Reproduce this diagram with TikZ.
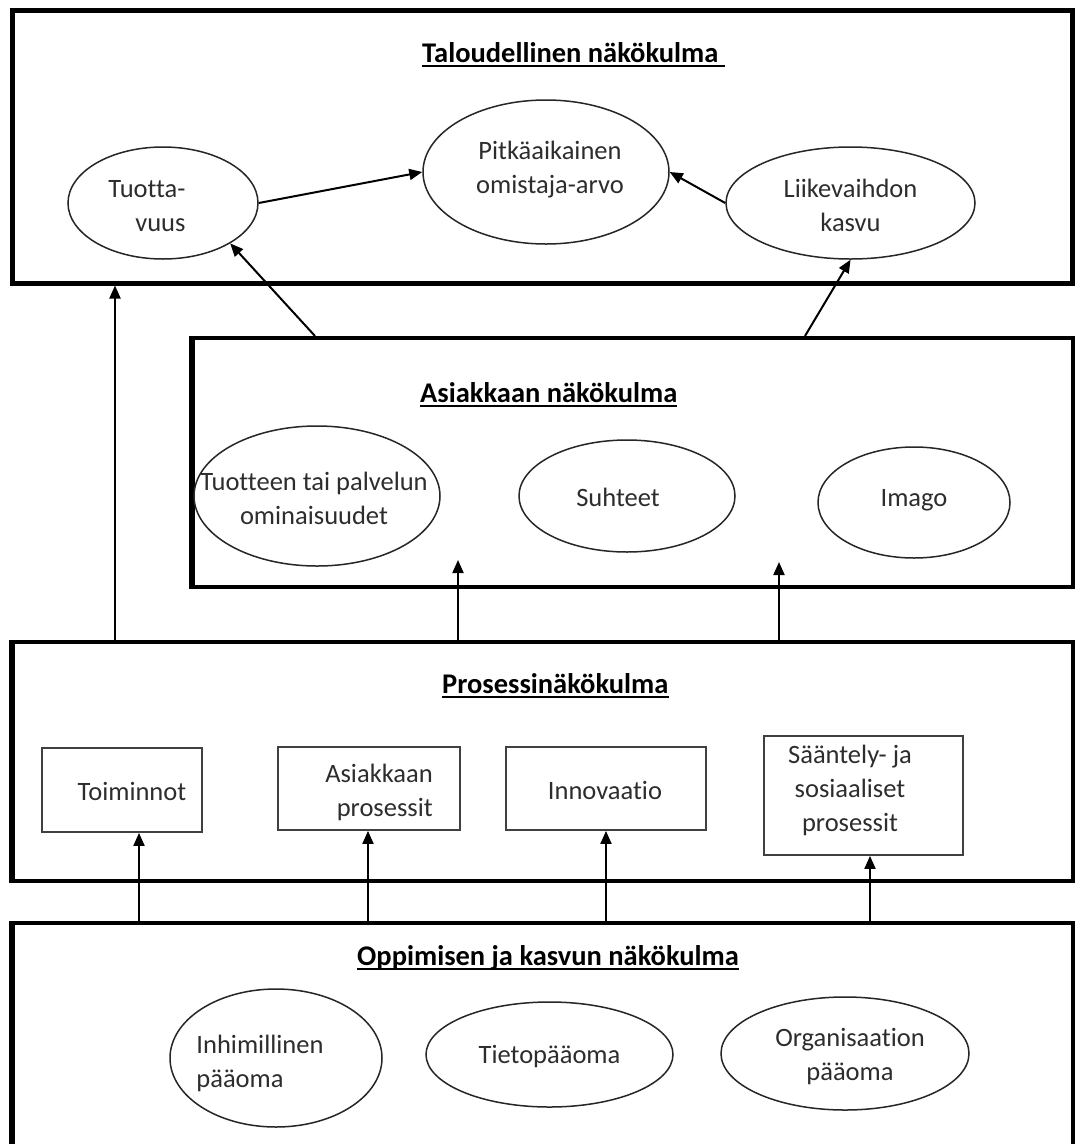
\documentclass[tikz,border=0pt]{standalone}
\usepackage{fontspec}
\setmainfont{Carlito}[Ligatures={NoCommon}]
\usetikzlibrary{arrows.meta,shapes.geometric}

\definecolor{ink}{RGB}{45,45,45}
\newcommand\bodyfont{\fontsize{26.5}{34}\selectfont}
\newcommand\headfont{\fontsize{28.5}{34}\selectfont\bfseries}
% Text block of zero width: #1 = twice the shift to the right,
% #2 = twice the shift downwards, #3 = column alignment, #4 = lines
\newcommand\nodetxt[4]{\makebox[0pt]{\hspace*{#1}\raisebox{0pt}[\dimexpr\height+#2\relax][\depth]{\begin{tabular}{@{}#3@{}}#4\end{tabular}}}}

\tikzset{
  panel/.style={draw=black, line width=4pt, rectangle, inner sep=0pt},
  leftedge/.style={line width=6.5pt},
  oval/.style={draw=black!85, ellipse, line width=1.5pt, inner sep=0pt,
    font=\bodyfont, text=ink},
  card/.style={draw=black!75, rectangle, line width=1.8pt, inner sep=0pt,
    font=\bodyfont, text=ink},
  heading/.style={inner sep=0pt, anchor=base west, font=\headfont, text=black},
  uline/.style={line width=2pt},
  link/.style={line width=2pt, -{Triangle[length=13pt,width=11pt]}}
}

\begin{document}
\begin{tikzpicture}[x=1pt,y=-1pt]
\useasboundingbox (0,0) rectangle (1075,1144);
\fill[white] (0,0) rectangle (1075,1144);

% --- perspective panels ---
\node[panel, line width=5pt, minimum width=1060pt, minimum height=273pt] (talo) at (542,146.5) {};
\node[panel, minimum width=881pt, minimum height=249pt] (asia) at (632.5,462.5) {};
\node[panel, minimum width=1061pt, minimum height=239pt] (proc) at (542.5,761.5) {};
\node[rectangle, inner sep=0pt, outer sep=0pt, minimum width=1061pt, minimum height=237pt] (opp) at (542.5,1041.5) {};
\draw[line width=4pt] (opp.south west) |- (opp.north east) -- (opp.south east);

\draw[leftedge] ([xshift=2pt]asia.north west) -- ([xshift=2pt]asia.south west);
\draw[leftedge] ([xshift=2pt]proc.north west) -- ([xshift=2pt]proc.south west);
\draw[leftedge] ([yshift=2pt]opp.north west) -- (opp.south west);

% --- headings ---
\node[heading] (h1) at (422,62) {Taloudellinen näkökulma};
\node[heading] (h2) at (420,402) {Asiakkaan näkökulma};
\node[heading] (h3) at (442,693) {Prosessinäkökulma};
\node[heading] (h4) at (357,965) {Oppimisen ja kasvun näkökulma};
\draw[uline] ([yshift=-4pt]h1.base west) -- ([xshift=7pt,yshift=-4pt]h1.base east);
\draw[uline] ([yshift=-4pt]h2.base west) -- ([yshift=-4pt]h2.base east);
\draw[uline] ([yshift=-4pt]h3.base west) -- ([yshift=-4pt]h3.base east);
\draw[uline] ([yshift=-4pt]h4.base west) -- ([yshift=-4pt]h4.base east);

% --- financial perspective ---
\node[oval, minimum width=190pt, minimum height=112pt] (tuotta) at (163,203)
  {\nodetxt{-32pt}{8.4pt}{r}{Tuotta-\\vuus}};
\node[oval, minimum width=246pt, minimum height=144pt] (pitka) at (546,172)
  {\nodetxt{8pt}{-5.6pt}{c}{Pitkäaikainen\\omistaja-arvo}};
\node[oval, minimum width=249pt, minimum height=112pt] (liike) at (850.5,203)
  {\nodetxt{0pt}{8.4pt}{c}{Liikevaihdon\\kasvu}};

% --- customer perspective ---
\node[oval, minimum width=246pt, minimum height=140pt] (tuote) at (317,496)
  {\nodetxt{-6pt}{8.4pt}{c}{Tuotteen tai palvelun\\ominaisuudet}};
\node[oval, minimum width=216pt, minimum height=112pt] (suhteet) at (627,496)
  {\nodetxt{-18pt}{6.4pt}{c}{Suhteet}};
\node[oval, minimum width=192pt, minimum height=111pt] (imago) at (914,502.5)
  {\nodetxt{0pt}{-5.6pt}{c}{Imago}};

% --- process perspective ---
\node[card, minimum width=160pt, minimum height=84pt] (toim) at (122,790)
  {\nodetxt{20pt}{6.4pt}{c}{Toiminnot}};
\node[card, minimum width=182pt, minimum height=83pt] (apros) at (369,788.5)
  {\nodetxt{20pt}{7.4pt}{r}{Asiakkaan\\prosessit}};
\node[card, minimum width=200pt, minimum height=83pt] (inno) at (606,788.5)
  {\nodetxt{-2pt}{7.4pt}{c}{Innovaatio}};
\node[card, minimum width=199pt, minimum height=119pt] (saant) at (863.5,795.5)
  {\nodetxt{-27pt}{-10.6pt}{c}{Sääntely- ja\\sosiaaliset\\prosessit}};

% --- learning and growth perspective ---
\node[oval, minimum width=212pt, minimum height=138pt] (inhim) at (276,1058)
  {\nodetxt{-32pt}{10.4pt}{l}{Inhimillinen\\pääoma}};
\node[oval, minimum width=247pt, minimum height=105pt] (tieto) at (549.5,1054.5)
  {\nodetxt{0pt}{3.4pt}{c}{Tietopääoma}};
\node[oval, minimum width=248pt, minimum height=113pt] (org) at (845,1053.5)
  {\nodetxt{10pt}{5.4pt}{c}{Organisaation\\pääoma}};

% --- connector positions ---
\coordinate (xa) at (115,0);
\coordinate (xb) at (315,0);
\coordinate (xc) at (805,0);
\coordinate (ta) at (458,560);
\coordinate (tb) at (779,562);
\coordinate (xd) at (139,0);
\coordinate (xe) at (368,0);
\coordinate (xf) at (606,0);
\coordinate (xg) at (870,0);

% --- connectors ---
\draw[link] (tuotta.east) -- (pitka.west);
\draw[link] (liike.west) -- (pitka.east);
\draw[link] (asia.north -| xb) -- (tuotta.-31);
\draw[link] (asia.north -| xc) -- (liike.south);
\draw[link] (proc.north -| xa) -- (talo.south -| xa);
\draw[link] (proc.north -| ta) -- (ta);
\draw[link] (proc.north -| tb) -- (tb);
\draw[link] (opp.north -| xd) -- (toim.south -| xd);
\draw[link] (opp.north -| xe) -- (apros.south -| xe);
\draw[link] (opp.north -| xf) -- (inno.south -| xf);
\draw[link] (opp.north -| xg) -- (saant.south -| xg);
\end{tikzpicture}
\end{document}
